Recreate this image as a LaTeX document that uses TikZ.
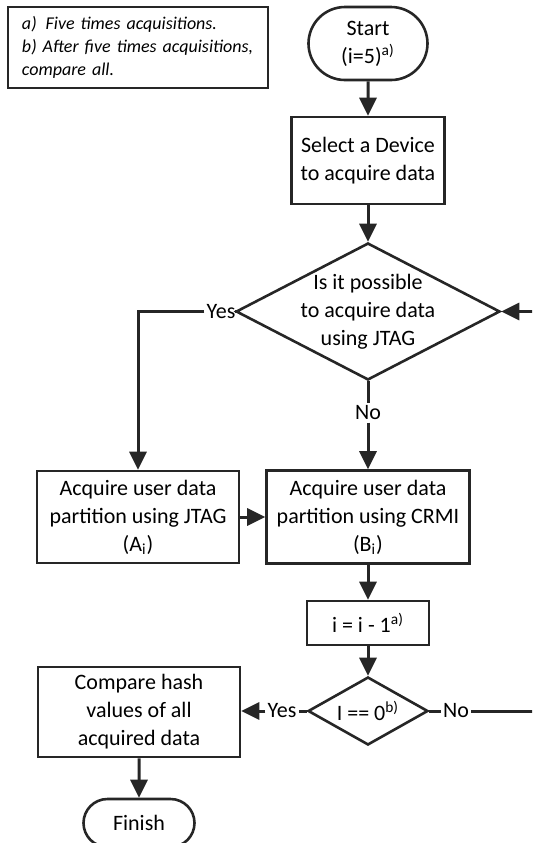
\documentclass[tikz,border=0pt]{standalone}
\usepackage{fontspec}
\setmainfont{Carlito}
\usetikzlibrary{shapes,arrows.meta,positioning}

\begin{document}
\begin{tikzpicture}[
    x=0.5pt, y=-0.5pt,
    every node/.style={font=\fontsize{11}{14}\selectfont},
    proc/.style={rectangle, draw=black!85, line width=1.3pt, align=center, inner sep=0pt},
    term/.style={rounded rectangle, draw=black!85, line width=1.3pt, align=center, inner sep=0pt},
    decide/.style={diamond, draw=black!85, line width=1.3pt, align=center, aspect=2, inner sep=-6pt},
    note/.style={rectangle, draw=black!85, line width=1pt, align=left, font=\fontsize{9}{11.5}\selectfont\itshape},
    flow/.style={-{Triangle[length=9pt,width=8.5pt]}, draw=black!85, line width=1.5pt},
    link/.style={draw=black!85, line width=1.5pt},
    tag/.style={inner sep=1pt}
]
\useasboundingbox (0,0) rectangle (532,843);
\clip (0,0) rectangle (532,843);

% footnotes
\node[note, minimum width=130pt, minimum height=40.5pt, text width=116pt, inner xsep=7pt] (legend) at (138,47.5)
    {a)\enspace Five times acquisitions.\\b) After five times acquisitions,\\compare all.};

% main column
\node[term, minimum width=59.5pt, minimum height=36.5pt] (start) at (368,43.5) {Start\\(i=5)\textsuperscript{a)}};
\node[proc, minimum width=76.5pt, minimum height=43.5pt] (select) at (368,160.5) {Select a Device\\to acquire data};
\node[decide, minimum width=132pt, minimum height=68.5pt] (jtagq) at (368,311.5) {Is it possible\\to acquire data\\using JTAG};
\node[proc, minimum width=101.5pt, minimum height=46.5pt] (crmiacq) at (368,517) {Acquire user data\\partition using CRMI\\(B\textsubscript{i})};
\node[proc, minimum width=61pt, minimum height=22pt] (decr) at (368,623) {i = i - 1\textsuperscript{a)}};
\node[decide, inner sep=0pt, minimum width=60pt, minimum height=34pt] (doneq) at (368,711) {I == 0\textsuperscript{b)}};

% left column
\node[proc, minimum width=101pt, minimum height=46pt] (jtagacq) at (138,517) {Acquire user data\\partition using JTAG\\(A\textsubscript{i})};
\node[proc, minimum width=101pt, minimum height=45pt] (compare) at (139,712) {Compare hash\\values of all\\acquired data};
\node[term, minimum width=55.5pt, minimum height=24pt] (finish) at (139,823) {Finish};

% branch labels
\node[tag] (yes1) at (221,311.5) {Yes};
\node[tag] (no1) at (368,413) {No};
\node[tag] (yes2) at (282,711) {Yes};
\node[tag] (no2) at (456,711) {No};
\coordinate (looptop) at (548,311.5);

% connectors
\draw[flow] (start) -- (select);
\draw[flow] (select) -- (jtagq);
\draw[link] (jtagq.west) -- (yes1.east);
\draw[flow] (yes1.west) -| (jtagacq.north);
\draw[link] (jtagq.south) -- (no1.north);
\draw[flow] (no1.south) -- (crmiacq.north);
\draw[flow] (jtagacq) -- (crmiacq);
\draw[flow] (crmiacq) -- (decr);
\draw[flow] (decr) -- (doneq);
\draw[link] (doneq.west) -- (yes2.east);
\draw[flow] (yes2.west) -- (compare.east |- yes2.west);
\draw[flow] (compare) -- (finish);
\draw[link] (doneq.east) -- (no2.west);
\draw[flow] (no2.east) -| (looptop) -- (jtagq.east);

\end{tikzpicture}
\end{document}
